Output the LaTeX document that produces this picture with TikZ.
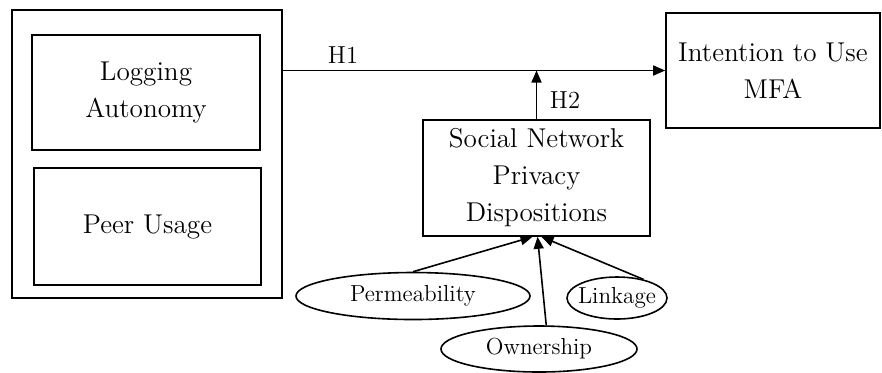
\documentclass[tikz,border=0pt]{standalone}
\usepackage{amsmath}
\usepackage{tikz}
\usetikzlibrary{arrows.meta,shapes.geometric}

\begin{document}
\begin{tikzpicture}[x=0.5pt,y=-0.5pt,
			line width=0.8pt,
			construct/.style={draw,rectangle,align=center,inner sep=0pt,font=\fontsize{13.6}{18.5}\selectfont},
			facet/.style={draw,ellipse,inner sep=0pt,font=\fontsize{11.6}{13}\selectfont},
			path/.style={-{Triangle[length=6pt,width=5pt]}},
			hyp/.style={font=\fontsize{12.3}{14}\selectfont}]
			\useasboundingbox (0,0) rectangle (882,372);
			
			\node[draw,rectangle,minimum width=135pt,minimum height=144pt] (antecedents) at (147,154) {};
			\node[construct,minimum width=114pt,minimum height=57.5pt] (logging) at (146,92.5) {Logging\\Autonomy};
			\node[construct,minimum width=113.5pt,minimum height=58.5pt] (peer) at (147.5,226.5) {Peer Usage};
			
			\node[construct,minimum width=107pt,minimum height=57.5pt] (intention) at (773,70.5) {Intention to Use\\MFA};
			\node[construct,minimum width=113.5pt,minimum height=58pt] (privacy) at (536.5,178) {Social Network\\Privacy\\Dispositions};
			
			\node[facet,minimum width=117pt,minimum height=23.5pt] (permeability) at (413,296) {Permeability};
			\node[facet,minimum width=98pt,minimum height=23pt] (ownership) at (539,349) {Ownership};
			\node[facet,inner xsep=-4pt,minimum width=50pt,minimum height=21pt] (linkage) at (617,298) {Linkage};
			
			\draw[path] (antecedents.east |- intention.west) -- (intention.west);
			\draw[path] (privacy.north) -- (privacy.north |- intention.west);
			
			\draw[path] (permeability.north) -- ([xshift=-2pt]privacy.south);
			\draw[path] (ownership.73) -- ([xshift=0.5pt]privacy.south);
			\draw[path] (linkage.35) -- ([xshift=2.5pt]privacy.south);
			
			\node[hyp] (h1) at (343,55) {H1};
			\node[hyp] (h2) at (565,100) {H2};
\end{tikzpicture}
\end{document}
